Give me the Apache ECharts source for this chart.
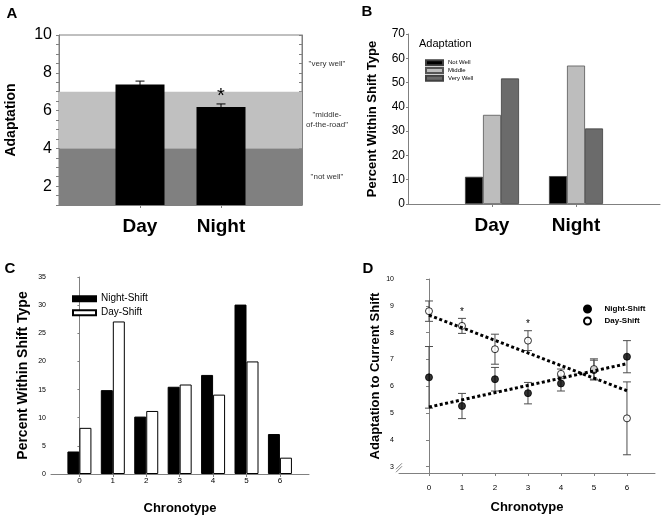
<!DOCTYPE html>
<html><head><meta charset="utf-8">
<script src="https://cdn.jsdelivr.net/npm/echarts@6/dist/echarts.min.js"></script>
<style>html,body{margin:0;padding:0;background:#fff}#c{width:661px;height:521px}</style>
</head><body><div id="c"></div><script>
// ---------- Panel A ----------
const shiftCats = ['Day', 'Night'];
const adaptMean = [7.38, 6.19];
const adaptErr = [0.18, 0.16];
const adaptStar = [0, 1];
const bandLow = [1, 4];
const bandHigh = [4, 7];
const bandTexts = ['"very well"', '"middle-\nof-the-road"', '"not well"'];
const bandTextValues = [8.5, 5.5, 2.5];
const aYTicks = [2, 4, 6, 8, 10];
// ---------- Panel B ----------
const adaptLevels = ['Not Well', 'Middle', 'Very Well'];
const pctNotWell = [11.2, 11.5];
const pctMiddle = [36.7, 57.0];
const pctVeryWell = [51.7, 31.1];
// ---------- Panel C ----------
const chronotypes = [0, 1, 2, 3, 4, 5, 6];
const pctNight = [4.0, 14.9, 10.2, 15.5, 17.6, 30.1, 7.1];
const pctDay = [8.2, 27.1, 11.2, 15.9, 14.1, 20.0, 2.9];
// ---------- Panel D ----------
const nightMean = [6.33, 5.26, 6.26, 5.74, 6.10, 6.60, 7.10];
const nightErr = [1.15, 0.47, 0.44, 0.40, 0.28, 0.37, 0.60];
const dayMean = [8.80, 8.25, 7.38, 7.70, 6.46, 6.64, 4.80];
const dayErr = [0.38, 0.28, 0.56, 0.37, 0.18, 0.38, 1.36];
const daySig = [0, 1, 0, 1, 0, 0, 0];
const trendX = [0, 6];
const nightTrend = [5.22, 6.84];
const dayTrend = [8.65, 5.83];
const dYTicks = [3, 4, 5, 6, 7, 8, 9, 10];

const FONT = 'Liberation Sans';
const AX = '#808080';

function errRender(capW, color, stars, starSize, starOff) {
  return function (params, api) {
    const x = api.value(0), m = api.value(1), e = api.value(2);
    const hi = api.coord([x, m + e]);
    const lo = api.coord([x, m - e]);
    const st = { stroke: color, lineWidth: 1 };
    const ch = [
      { type: 'line', shape: { x1: hi[0], y1: hi[1], x2: lo[0], y2: lo[1] }, style: st },
      { type: 'line', shape: { x1: hi[0] - capW / 2, y1: hi[1], x2: hi[0] + capW / 2, y2: hi[1] }, style: st },
      { type: 'line', shape: { x1: lo[0] - capW / 2, y1: lo[1], x2: lo[0] + capW / 2, y2: lo[1] }, style: st }
    ];
    if (stars && stars[params.dataIndex]) {
      ch.push({ type: 'text', x: hi[0], y: hi[1] - starOff,
        style: { text: '*', fontSize: starSize, fontFamily: FONT, fill: '#000', align: 'center', verticalAlign: 'middle' } });
    }
    return { type: 'group', children: ch };
  };
}

const catAB = ['', ...shiftCats, ''];
const padAB = arr => ['-', ...arr, '-'];
const showCat = (i, v) => v !== '';

const option = {
  animation: false,
  textStyle: { fontFamily: FONT },
  grid: [
    { left: 59, top: 35, width: 243, height: 170, show: true, borderColor: AX, borderWidth: 1, backgroundColor: 'transparent' },
    { left: 408, top: 34, width: 252, height: 170 },
    { left: 51, top: 277, width: 258, height: 197 },
    { left: 399, top: 279, width: 256, height: 194 }
  ],
  legend: [
    { data: adaptLevels, left: 420, top: 53.8, orient: 'vertical', icon: 'rect', itemWidth: 17, itemHeight: 5, itemGap: 0,
      textStyle: { fontSize: 6, lineHeight: 7.8, color: '#000', fontFamily: FONT }, selectedMode: false },
    { data: [{ name: 'Night-Shift', icon: 'rect' }, { name: 'Day-Shift', icon: 'rect' }], left: 67, top: 287.7, orient: 'vertical',
      itemWidth: 23, itemHeight: 5, itemGap: 2, textStyle: { fontSize: 10, lineHeight: 12, color: '#000', fontFamily: FONT }, selectedMode: false },
    { data: [{ name: 'Night-Shift', icon: 'circle' }, { name: 'Day-Shift', icon: 'circle' }], left: 578, top: 299, orient: 'vertical',
      itemWidth: 24, itemHeight: 7, itemGap: 2, textStyle: { fontSize: 8, lineHeight: 10, fontWeight: 'bold', color: '#000', fontFamily: FONT }, selectedMode: false }
  ],
  xAxis: [
    { gridIndex: 0, type: 'category', data: catAB, boundaryGap: false,
      axisLine: { lineStyle: { color: AX } },
      axisTick: { length: 3, interval: showCat, lineStyle: { color: AX } },
      axisLabel: { interval: showCat, fontSize: 19, fontWeight: 'bold', color: '#000', margin: 12 },
      splitLine: { show: false } },
    { gridIndex: 1, type: 'category', data: catAB, boundaryGap: false,
      axisLine: { lineStyle: { color: AX } },
      axisTick: { length: 3, interval: showCat, lineStyle: { color: AX } },
      axisLabel: { interval: showCat, fontSize: 19, fontWeight: 'bold', color: '#000', margin: 12 },
      splitLine: { show: false } },
    { gridIndex: 2, type: 'value', min: -0.85, max: 6.87,
      axisLine: { lineStyle: { color: AX } },
      axisTick: { length: 3, customValues: chronotypes, lineStyle: { color: AX } },
      axisLabel: { customValues: chronotypes, fontSize: 8, color: '#000', margin: 3 },
      splitLine: { show: false },
      name: 'Chronotype', nameLocation: 'middle', nameGap: 28, nameTextStyle: { fontSize: 13, fontWeight: 'bold', color: '#000' } },
    { gridIndex: 3, type: 'value', min: -0.909, max: 6.85,
      axisLine: { lineStyle: { color: AX } },
      axisTick: { length: 3, customValues: chronotypes, lineStyle: { color: AX } },
      axisLabel: { customValues: chronotypes, fontSize: 8, color: '#000', margin: 11 },
      splitLine: { show: false },
      name: 'Chronotype', nameLocation: 'middle', nameGap: 28, nameTextStyle: { fontSize: 13, fontWeight: 'bold', color: '#000' } }
  ],
  yAxis: [
    { gridIndex: 0, type: 'value', min: 1, max: 10, interval: 0.5,
      axisLine: { show: true, lineStyle: { color: AX } },
      axisTick: { show: true, length: 3, lineStyle: { color: AX } },
      axisLabel: { fontSize: 16, color: '#000', margin: 7, formatter: v => (aYTicks.indexOf(v) >= 0 ? String(v) : '') },
      splitLine: { show: false },
      name: 'Adaptation', nameLocation: 'middle', nameGap: 41, nameTextStyle: { fontSize: 14, fontWeight: 'bold', color: '#000' } },
    { gridIndex: 0, type: 'value', position: 'right', min: 1, max: 10, interval: 0.5,
      axisLine: { show: true, lineStyle: { color: AX } },
      axisTick: { show: true, inside: true, length: 3, lineStyle: { color: AX } },
      axisLabel: { show: false }, splitLine: { show: false } },
    { gridIndex: 1, type: 'value', min: 0, max: 70, interval: 10,
      axisLine: { show: true, lineStyle: { color: AX } },
      axisTick: { show: true, length: 2, lineStyle: { color: AX } },
      axisLabel: { fontSize: 12, color: '#000', margin: 3 },
      splitLine: { show: false },
      name: 'Percent Within Shift Type', nameLocation: 'middle', nameGap: 29, nameTextStyle: { fontSize: 13, fontWeight: 'bold', color: '#000' } },
    { gridIndex: 2, type: 'value', min: 0, max: 35, interval: 5,
      axisLine: { show: true, lineStyle: { color: AX } },
      axisTick: { show: true, length: 2, lineStyle: { color: AX } },
      axisLabel: { fontSize: 7, color: '#000', margin: 5 },
      splitLine: { show: false },
      name: 'Percent Within Shift Type', nameLocation: 'middle', nameGap: 21, nameTextStyle: { fontSize: 14, fontWeight: 'bold', color: '#000' } },
    { gridIndex: 3, type: 'value', min: 2.76, max: 10,
      axisLine: { show: true, lineStyle: { color: AX } },
      axisTick: { show: true, length: 3, customValues: dYTicks, lineStyle: { color: AX } },
      axisLabel: { customValues: dYTicks, fontSize: 7, color: '#000', margin: 5 },
      splitLine: { show: false },
      name: 'Adaptation to Current Shift', nameLocation: 'middle', nameGap: 16, nameTextStyle: { fontSize: 13, fontWeight: 'bold', color: '#000' } }
  ],
  series: [
    // Panel A
    { type: 'bar', name: 'A', xAxisIndex: 0, yAxisIndex: 0, barWidth: 49, z: 3,
      itemStyle: { color: '#000' },
      data: padAB(adaptMean.map((v, i) => adaptStar[i]
        ? { value: v, label: { show: true, formatter: '*', position: 'top', distance: 0, fontSize: 20, color: '#000' } }
        : v)),
      markArea: { silent: true, z: 1,
        data: [
          [{ yAxis: bandLow[0], itemStyle: { color: '#808080' } }, { yAxis: bandHigh[0] }],
          [{ yAxis: bandLow[1], itemStyle: { color: '#c0c0c0' } }, { yAxis: bandHigh[1] }]
        ] } },
    { type: 'custom', name: 'Aerr', xAxisIndex: 0, yAxisIndex: 0, z: 4,
      renderItem: errRender(9, '#000'),
      encode: { x: 0, y: 1 },
      data: adaptMean.map((v, i) => [i + 1, v, adaptErr[i]]) },
    // Panel B
    { type: 'bar', name: adaptLevels[0], xAxisIndex: 1, yAxisIndex: 2, barWidth: 18, barGap: '0%',
      itemStyle: { color: '#000', borderColor: '#404040', borderWidth: 0.8 }, data: padAB(pctNotWell) },
    { type: 'bar', name: adaptLevels[1], xAxisIndex: 1, yAxisIndex: 2, barWidth: 18, barGap: '0%',
      itemStyle: { color: '#bdbdbd', borderColor: '#555', borderWidth: 0.8 }, data: padAB(pctMiddle) },
    { type: 'bar', name: adaptLevels[2], xAxisIndex: 1, yAxisIndex: 2, barWidth: 18, barGap: '0%',
      itemStyle: { color: '#6b6b6b', borderColor: '#404040', borderWidth: 0.8 }, data: padAB(pctVeryWell) },
    // Panel C
    { type: 'bar', name: 'Night-Shift', xAxisIndex: 2, yAxisIndex: 3, barWidth: 12, barGap: '0%',
      itemStyle: { color: '#000', borderColor: '#000', borderWidth: 1 },
      data: chronotypes.map((c, i) => [c, pctNight[i]]) },
    { type: 'bar', name: 'Day-Shift', xAxisIndex: 2, yAxisIndex: 3, barWidth: 12, barGap: '0%',
      itemStyle: { color: '#fff', borderColor: '#000', borderWidth: 1 },
      data: chronotypes.map((c, i) => [c, pctDay[i]]) },
    // Panel D
    { type: 'custom', name: 'nightErr', xAxisIndex: 3, yAxisIndex: 4, z: 2,
      renderItem: errRender(8, '#4d4d4d'), encode: { x: 0, y: 1 },
      data: chronotypes.map((c, i) => [c, nightMean[i], nightErr[i]]) },
    { type: 'custom', name: 'dayErr', xAxisIndex: 3, yAxisIndex: 4, z: 2,
      renderItem: errRender(8, '#4d4d4d', daySig, 10, 6), encode: { x: 0, y: 1 },
      data: chronotypes.map((c, i) => [c, dayMean[i], dayErr[i]]) },
    { type: 'scatter', name: 'Night-Shift', xAxisIndex: 3, yAxisIndex: 4, z: 3, symbol: 'circle', symbolSize: 7,
      itemStyle: { color: '#000', borderColor: '#000', borderWidth: 1 },
      data: chronotypes.map((c, i) => [c, nightMean[i]]) },
    { type: 'scatter', name: 'Day-Shift', xAxisIndex: 3, yAxisIndex: 4, z: 3, symbol: 'circle', symbolSize: 7,
      itemStyle: { color: '#fff', borderColor: '#000', borderWidth: 1 },
      data: chronotypes.map((c, i) => [c, dayMean[i]]) },
    { type: 'line', name: 'nightTrend', xAxisIndex: 3, yAxisIndex: 4, z: 4, symbol: 'none',
      lineStyle: { color: '#000', width: 3, type: [3, 2.5] },
      data: trendX.map((x, i) => [x, nightTrend[i]]) },
    { type: 'line', name: 'dayTrend', xAxisIndex: 3, yAxisIndex: 4, z: 4, symbol: 'none',
      lineStyle: { color: '#000', width: 3, type: [3, 2.5] },
      data: trendX.map((x, i) => [x, dayTrend[i]]) }
  ]
};

const chart = echarts.init(document.getElementById('c'), null, { renderer: 'canvas' });
chart.setOption(option);

const g = [];
const letter = (t, x, y) => ({ type: 'text', x: x, y: y, style: { text: t, fontSize: 15, fontWeight: 'bold', fontFamily: FONT, fill: '#000', align: 'center', verticalAlign: 'middle' } });
g.push(letter('A', 12, 14), letter('B', 367, 12), letter('C', 10, 269), letter('D', 368, 269));
bandTexts.forEach((t, i) => {
  const py = chart.convertToPixel({ yAxisIndex: 0 }, bandTextValues[i]);
  g.push({ type: 'text', x: 327, y: py, style: { text: t, fontSize: 8, lineHeight: 9.5, fontFamily: FONT, fill: '#333', align: 'center', verticalAlign: 'middle' } });
});
g.push({ type: 'text', x: 419, y: 44, style: { text: 'Adaptation', fontSize: 11, fontFamily: FONT, fill: '#000', align: 'left', verticalAlign: 'middle' } });
// axis break marks on panel D y axis
const bp = chart.convertToPixel({ gridIndex: 3 }, [-0.909, 2.9]);
[0, 3].forEach(o => {
  g.push({ type: 'line', z: 100, shape: { x1: bp[0] - 3, y1: bp[1] + 3 - o, x2: bp[0] + 3, y2: bp[1] - 3 - o }, style: { stroke: AX, lineWidth: 1 } });
});
chart.setOption({ graphic: g });
</script></body></html>
